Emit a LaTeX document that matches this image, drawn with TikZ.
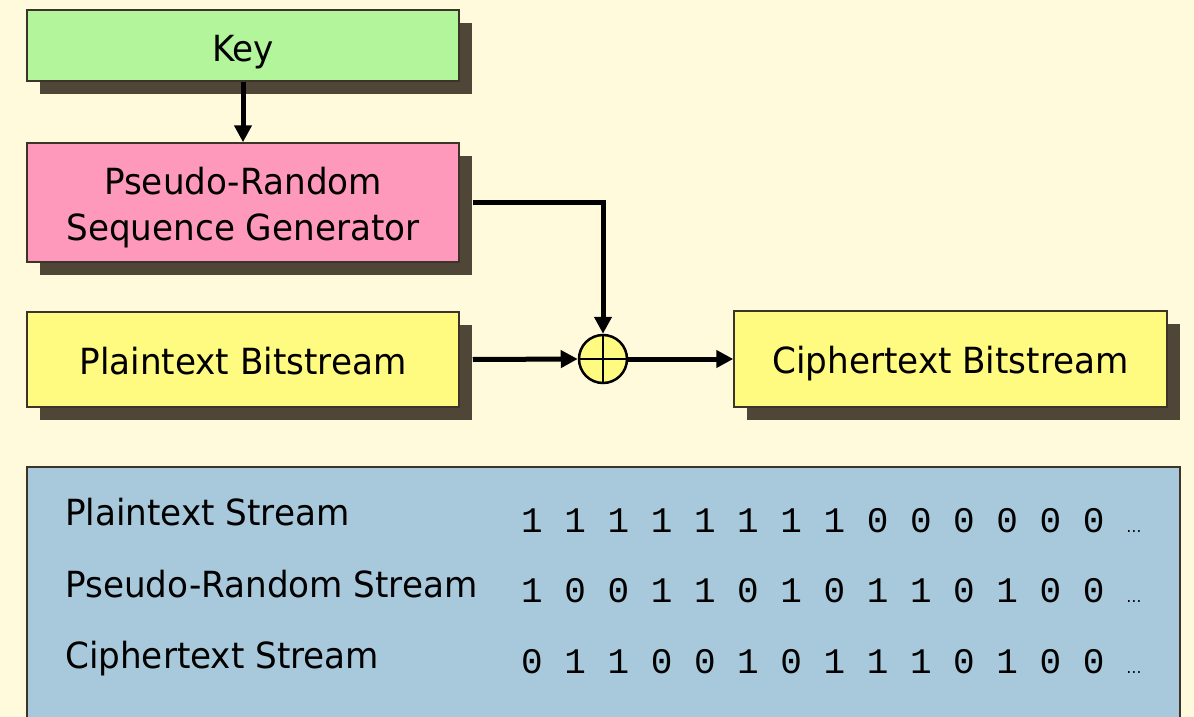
\documentclass[tikz,border=0pt]{standalone}
\usepackage{fontspec}
\setmainfont[FakeStretch=0.95]{DejaVu Sans}
\newfontfamily\monof{Liberation Mono}
\usetikzlibrary{shadows,arrows.meta}
\definecolor{bgc}{RGB}{255,250,220}
\definecolor{keyc}{RGB}{178,245,155}
\definecolor{pinkc}{RGB}{255,153,187}
\definecolor{yelc}{RGB}{255,250,128}
\definecolor{bluec}{RGB}{167,201,219}
\definecolor{shadowc}{RGB}{80,70,55}
\definecolor{edgec}{RGB}{60,52,40}
\begin{document}
\begin{tikzpicture}[x=1pt,y=-1pt,
  box/.style={draw=edgec, line width=1.5pt, inner sep=0pt, align=center,
    font=\fontsize{36}{46}\selectfont, minimum width=432pt, text depth=0pt,
    drop shadow={shadow xshift=13pt, shadow yshift=-13pt, fill=shadowc, opacity=1}},
  arr/.style={line width=5pt, -{Triangle[length=17pt,width=17pt]}},
  lbl/.style={anchor=base west, inner sep=0pt, font=\fontsize{36}{40}\selectfont},
  bits/.style={anchor=base west, inner sep=0pt, font=\monof\fontsize{36}{40}\selectfont},
  dots/.style={anchor=base, inner sep=0pt, font=\fontsize{16}{16}\selectfont}]
\clip (0,0) rectangle (1194,717);
\fill[bgc] (0,0) rectangle (1194,717);

\node[box, fill=keyc, minimum height=71pt, text height=32pt] (key) at (243,45.5) {Key};
\node[box, fill=pinkc, minimum height=119pt, text height=75pt] (prsg) at (243,202.5) {Pseudo-Random\\Sequence Generator};
\node[box, fill=yelc, minimum height=95pt, text height=29pt] (plain) at (243,359.5) {Plaintext Bitstream};
\node[box, fill=yelc, minimum width=433pt, minimum height=96pt, text height=28pt] (ciph) at (950.5,359) {Ciphertext Bitstream};

\node[circle, draw=black, line width=2.5pt, fill=yelc, minimum size=48pt, inner sep=0pt] (xor) at (603,359) {};
\draw[line width=2.5pt] (xor.north) -- (xor.south) (xor.west) -- (xor.east);

\draw[arr] (key.south) -- (prsg.north);
\draw[arr] ([xshift=13pt]prsg.east) -| (xor.north);
\draw[arr] ([xshift=13pt]plain.east) -- (xor.west);
\draw[arr] (xor.east) -- (ciph.west);

\fill[bluec, draw=edgec, line width=1.5pt] (27,467) rectangle (1180,740);

\node[lbl] (l1) at (65,525) {Plaintext Stream};
\node[lbl] (l2) at (65,597) {Pseudo-Random Stream};
\node[lbl] (l3) at (65,668) {Ciphertext Stream};

\node[bits] (b1) at (521,532) {1 1 1 1 1 1 1 1 0 0 0 0 0 0};
\node[bits] (b2) at (521,602) {1 0 0 1 1 0 1 0 1 1 0 1 0 0};
\node[bits] (b3) at (521,673) {0 1 1 0 0 1 0 1 1 1 0 1 0 0};

\node[dots] (d1) at (1134,532) {…};
\node[dots] (d2) at (1134,602) {…};
\node[dots] (d3) at (1134,673) {…};
\end{tikzpicture}
\end{document}
